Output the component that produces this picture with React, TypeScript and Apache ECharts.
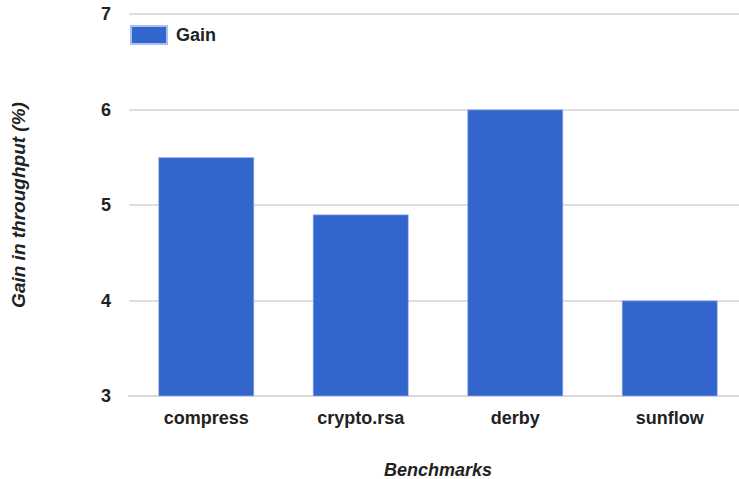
import React, { useEffect, useRef } from "react";
import * as echarts from "echarts";

const categories = ["compress", "crypto.rsa", "derby", "sunflow"];
const gainValues = [5.5, 4.9, 6.0, 4.0];
const seriesName = "Gain";

const FONT = "'Liberation Sans', Arial, sans-serif";

export default function App() {
  const ref = useRef<HTMLDivElement>(null);

  useEffect(() => {
    if (!ref.current) return;
    const chart = echarts.init(ref.current, null, { renderer: "svg" });
    chart.setOption({
      animation: false,
      backgroundColor: "#ffffff",
      textStyle: { fontFamily: FONT },
      legend: {
        left: 130,
        top: 25,
        padding: 0,
        itemWidth: 36,
        itemHeight: 18,
        itemGap: 10,
        icon: "rect",
        data: [seriesName],
        textStyle: {
          fontFamily: FONT,
          fontSize: 18,
          fontWeight: "bold",
          color: "#222222",
          padding: [0, 0, 0, 4],
        },
      },
      grid: {
        left: 129,
        right: -8,
        top: 14,
        bottom: 83,
        outerBoundsMode: "none",
        containLabel: false,
      },
      xAxis: {
        type: "category",
        data: categories,
        name: "Benchmarks",
        nameLocation: "middle",
        nameGap: 65,
        nameTextStyle: {
          fontFamily: FONT,
          fontSize: 18,
          fontWeight: "bold",
          fontStyle: "italic",
          color: "#222222",
        },
        axisLine: { show: true, lineStyle: { color: "#d9d9d9", width: 2 } },
        axisTick: { show: false },
        axisLabel: {
          margin: 13,
          fontFamily: FONT,
          fontSize: 18,
          fontWeight: "bold",
          color: "#222222",
        },
      },
      yAxis: {
        type: "value",
        min: 3,
        max: 7,
        interval: 1,
        name: "Gain in throughput (%)",
        nameLocation: "middle",
        nameGap: 101,
        nameTextStyle: {
          fontFamily: FONT,
          fontSize: 19,
          fontWeight: "bold",
          fontStyle: "italic",
          color: "#222222",
        },
        axisLine: { show: false },
        axisTick: { show: false },
        axisLabel: {
          margin: 18,
          fontFamily: FONT,
          fontSize: 18,
          fontWeight: "bold",
          color: "#222222",
        },
        splitLine: { show: true, lineStyle: { color: "#dedede", width: 2 } },
      },
      series: [
        {
          name: seriesName,
          type: "bar",
          data: gainValues,
          barCategoryGap: "38%",
          itemStyle: { color: "#3366cc", borderColor: "#a9bff0", borderWidth: 0.6 },
        },
      ],
    });
    return () => chart.dispose();
  }, []);

  return (
    <div
      ref={ref}
      style={{ position: "absolute", left: 0, top: 0, width: 739, height: 479 }}
    />
  );
}
